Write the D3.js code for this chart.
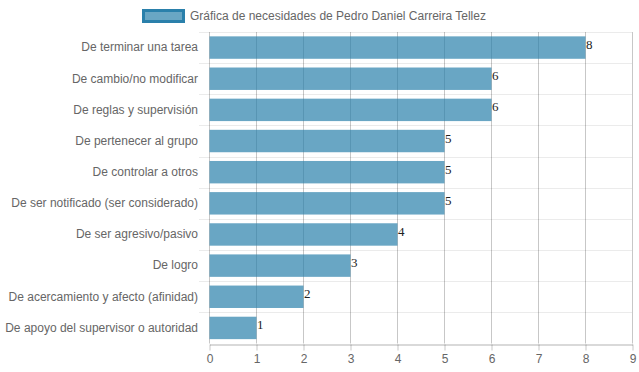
<!DOCTYPE html>
<html>
<head>
<meta charset="utf-8">
<script src="https://cdn.jsdelivr.net/npm/d3@7"></script>
<style>
  html, body { margin: 0; padding: 0; background: #fff; }
  svg { display: block; font-family: "Liberation Sans", Arial, sans-serif; }
</style>
</head>
<body>
<div class="chart"></div>
<script>
// categorías (eje vertical)
const categories = [
  "De terminar una tarea",
  "De cambio/no modificar",
  "De reglas y supervisión",
  "De pertenecer al grupo",
  "De controlar a otros",
  "De ser notificado (ser considerado)",
  "De ser agresivo/pasivo",
  "De logro",
  "De acercamiento y afecto (afinidad)",
  "De apoyo del supervisor o autoridad",
]
// valores de la serie
const values = [8, 6, 6, 5, 5, 5, 4, 3, 2, 1]
const xTicks = [0, 1, 2, 3, 4, 5, 6, 7, 8, 9]
const seriesName = "Gráfica de necesidades de Pedro Daniel Carreira Tellez"

const width = 639
const height = 372
const plot = { left: 209, right: 632, top: 32, bottom: 343.5 }
const barColor = "rgb(42,128,171)"
const textColor = "#666"

const svg = d3.select(".chart").append("svg")
  .attr("width", width)
  .attr("height", height)

// escalas
const x = d3.scaleLinear().domain([0, 9]).range([plot.left, plot.right])
const y = d3.scaleBand()
  .domain(categories)
  .range([plot.top, plot.bottom])
  .paddingInner(0.28)
  .paddingOuter(0.14)
const step = y.step()

// líneas horizontales (entre categorías)
const bounds = categories.map((c) => y(c) - y.paddingOuter() * step)
svg.append("g")
  .selectAll("line")
  .data(bounds)
  .join("line")
  .attr("x1", plot.left - 10)
  .attr("x2", plot.right)
  .attr("y1", (d) => Math.round(d) + 0.5)
  .attr("y2", (d) => Math.round(d) + 0.5)
  .attr("stroke", "rgba(0,0,0,0.08)")

// líneas verticales
svg.append("g")
  .selectAll("line")
  .data(xTicks)
  .join("line")
  .attr("x1", (d) => Math.round(x(d)) + 0.5)
  .attr("x2", (d) => Math.round(x(d)) + 0.5)
  .attr("y1", plot.top)
  .attr("y2", plot.bottom)
  .attr("stroke", "rgba(0,0,0,0.22)")

// eje x
const xAxis = svg.append("g")
  .attr("transform", `translate(0.5,${Math.round(plot.bottom) + 0.5})`)
  .call(d3.axisBottom(x).tickValues(xTicks).tickSizeInner(6).tickSizeOuter(0).tickPadding(4))
xAxis.select(".domain").attr("stroke", "rgba(0,0,0,0.3)")
xAxis.selectAll(".tick line").attr("stroke", "rgba(0,0,0,0.22)")
xAxis.selectAll("text")
  .attr("fill", textColor)
  .attr("font-size", 12)
  .attr("font-family", "Liberation Sans, Arial, sans-serif")

// eje y
const yAxis = svg.append("g")
  .attr("transform", `translate(${plot.left},0)`)
  .call(d3.axisLeft(y).tickSize(0).tickPadding(11))
yAxis.select(".domain").remove()
yAxis.selectAll("text")
  .attr("fill", textColor)
  .attr("font-size", 12)
  .attr("font-family", "Liberation Sans, Arial, sans-serif")

// barras
svg.append("g")
  .selectAll("rect")
  .data(values)
  .join("rect")
  .attr("x", x(0) + 0.5)
  .attr("y", (d, i) => y(categories[i]))
  .attr("width", (d) => x(d) - x(0))
  .attr("height", y.bandwidth())
  .attr("fill", barColor)
  .attr("fill-opacity", 0.7)

// etiquetas de valor
svg.append("g")
  .selectAll("text")
  .data(values)
  .join("text")
  .attr("x", (d) => x(d) + 1)
  .attr("y", (d, i) => y(categories[i]) + y.bandwidth() / 2 + 1.5)
  .attr("font-family", "Liberation Serif, Times New Roman, serif")
  .attr("font-size", 13)
  .attr("fill", "#222")
  .text((d) => d)

// leyenda
const legend = svg.append("g")
legend.append("rect")
  .attr("x", 143.5)
  .attr("y", 10.5)
  .attr("width", 40)
  .attr("height", 11)
  .attr("fill", barColor)
  .attr("fill-opacity", 0.7)
  .attr("stroke", barColor)
  .attr("stroke-width", 3)
legend.append("text")
  .attr("x", 190)
  .attr("y", 16)
  .attr("dy", "0.35em")
  .attr("font-size", 12)
  .attr("fill", textColor)
  .text(seriesName)
</script>
</body>
</html>
